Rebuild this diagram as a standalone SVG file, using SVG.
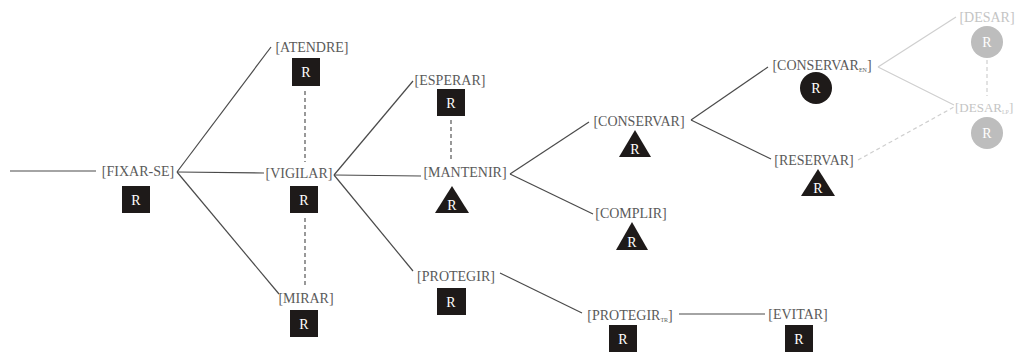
<svg xmlns="http://www.w3.org/2000/svg" width="1017" height="353" viewBox="0 0 1017 353">
<defs>
<style>
.t{font-family:"Liberation Serif","Times New Roman",serif;font-size:14px;fill:#5a5a5a;text-anchor:middle}
.tl{font-family:"Liberation Serif","Times New Roman",serif;font-size:14px;fill:#c4c4c4;text-anchor:middle}
.sub{font-size:6px}
.r{font-family:"Liberation Serif","Times New Roman",serif;font-size:14px;fill:#ffffff;text-anchor:middle}
.box{fill:#1e1a19}
.cl{fill:#bdbdbd}
.ln{stroke:#4a4a4a;stroke-width:1.2;fill:none}
.lnl{stroke:#cfcfcf;stroke-width:1.2;fill:none}
.dash{stroke:#555;stroke-width:1.2;stroke-dasharray:4 3;fill:none}
.dashl{stroke:#cfcfcf;stroke-width:1.2;stroke-dasharray:4 3;fill:none}
</style>
</defs>
<rect width="1017" height="353" fill="#ffffff"/>
<g id="connectors">
<line class="ln" x1="10" y1="171" x2="96" y2="171"/>
<line class="ln" x1="177" y1="172" x2="271" y2="47"/>
<line class="ln" x1="177" y1="172" x2="264" y2="173"/>
<line class="ln" x1="177" y1="172" x2="279" y2="294"/>
<line class="dash" x1="305" y1="91" x2="305" y2="162"/>
<line class="dash" x1="305" y1="218" x2="305" y2="286"/>
<line class="ln" x1="334" y1="175" x2="413" y2="81"/>
<line class="ln" x1="334" y1="175" x2="421" y2="176"/>
<line class="ln" x1="334" y1="175" x2="413" y2="271"/>
<line class="dash" x1="451" y1="120" x2="451" y2="161"/>
<line class="ln" x1="510" y1="174" x2="589" y2="122"/>
<line class="ln" x1="510" y1="174" x2="593" y2="214"/>
<line class="ln" x1="691" y1="120" x2="768" y2="67"/>
<line class="ln" x1="691" y1="120" x2="771" y2="159"/>
<line class="lnl" x1="878" y1="67" x2="956" y2="17"/>
<line class="lnl" x1="878" y1="67" x2="954" y2="105"/>
<line class="dashl" x1="987" y1="60" x2="987" y2="96"/>
<line class="dashl" x1="858" y1="160" x2="954" y2="107"/>
<line class="ln" x1="500" y1="273" x2="582" y2="313"/>
<line class="ln" x1="679" y1="314" x2="765" y2="314"/>
</g>
<g id="fixar-se"><text class="t" x="138" y="176">[FIXAR-SE]</text><rect class="box" x="122" y="186" width="28" height="27"/><text class="r" x="136" y="205">R</text></g>
<g id="atendre"><text class="t" x="312" y="52">[ATENDRE]</text><rect class="box" x="292" y="58" width="28" height="28"/><text class="r" x="306" y="77">R</text></g>
<g id="vigilar"><text class="t" x="299" y="178">[VIGILAR]</text><rect class="box" x="290" y="186" width="28" height="27"/><text class="r" x="304" y="205">R</text></g>
<g id="mirar"><text class="t" x="306" y="303">[MIRAR]</text><rect class="box" x="290" y="310" width="28" height="27"/><text class="r" x="304" y="329">R</text></g>
<g id="esperar"><text class="t" x="450" y="85">[ESPERAR]</text><rect class="box" x="437" y="89" width="28" height="27"/><text class="r" x="451" y="108">R</text></g>
<g id="mantenir"><text class="t" x="465" y="177">[MANTENIR]</text><polygon class="box" points="452,186 469,213 435,213"/><text class="r" x="452" y="210">R</text></g>
<g id="protegir"><text class="t" x="456" y="281">[PROTEGIR]</text><rect class="box" x="437" y="288" width="29" height="27"/><text class="r" x="451" y="307">R</text></g>
<g id="conservar"><text class="t" x="639" y="126">[CONSERVAR]</text><polygon class="box" points="635,130 651,157 619,157"/><text class="r" x="635" y="154">R</text></g>
<g id="complir"><text class="t" x="631" y="218">[COMPLIR]</text><polygon class="box" points="632,222 648,250 616,250"/><text class="r" x="632" y="247">R</text></g>
<g id="protegir-tr"><text class="t" x="630" y="320">[PROTEGIR<tspan class="sub" dy="2">TR</tspan><tspan dy="-2">]</tspan></text><rect class="box" x="609" y="325" width="28" height="27"/><text class="r" x="623" y="344">R</text></g>
<g id="evitar"><text class="t" x="798" y="319">[EVITAR]</text><rect class="box" x="785" y="325" width="28" height="27"/><text class="r" x="799" y="344">R</text></g>
<g id="conservar-en"><text class="t" x="822" y="70">[CONSERVAR<tspan class="sub" dy="2">EN</tspan><tspan dy="-2">]</tspan></text><circle class="box" cx="816" cy="88" r="16"/><text class="r" x="816" y="93">R</text></g>
<g id="reservar"><text class="t" x="814" y="165">[RESERVAR]</text><polygon class="box" points="818,169 835,196 801,196"/><text class="r" x="818" y="193">R</text></g>
<g id="desar"><text class="tl" x="987" y="22">[DESAR]</text><circle class="cl" cx="987" cy="42" r="16"/><text class="r" x="987" y="47">R</text></g>
<g id="desar-2"><text class="tl" x="955" y="112" style="text-anchor:start;font-size:13px">[DESAR<tspan class="sub" dy="2">LP</tspan><tspan dy="-2">]</tspan></text><circle class="cl" cx="987" cy="133" r="16"/><text class="r" x="987" y="138">R</text></g>
</svg>
